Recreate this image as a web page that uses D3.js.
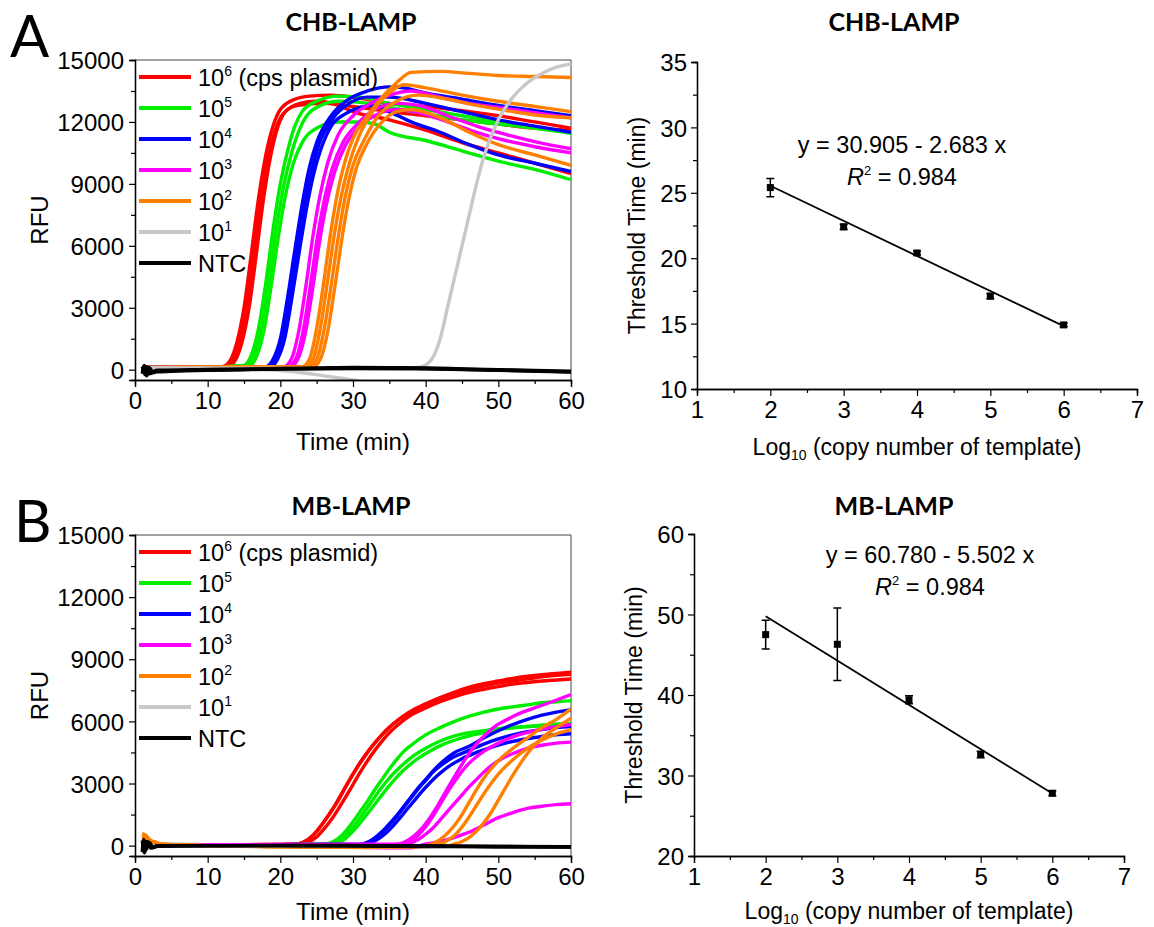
<!DOCTYPE html>
<html>
<head>
<meta charset="utf-8">
<script src="https://cdn.jsdelivr.net/npm/d3@7"></script>
<style>
  body { margin: 0; background: #fff; }
  svg text { font-family: "Liberation Sans", Arial, sans-serif; }
  .title { font-family: Lato, "Open Sans", sans-serif !important; font-weight: bold; }
</style>
</head>
<body>
<div class="canvas"></div>
<script>
// ---------- data ----------
const doseLabels = ['6', '5', '4', '3', '2', '1', 'NTC']
const doseColors = ['#ff0000', '#00ee00', '#0000ff', '#ff00ff', '#ff8000', '#c8c8c8', '#000000']

// CHB-LAMP amplification curves, [time (min), RFU]
const chb1e6 = [
  [[1,150],[5,120],[10,130],[12,150],[13,400],[14,1300],[15,3000],[16,5600],[17,8300],[18,10400],[19,11800],[20,12600],[22,13100],[24,13250],[27,13300],[30,13200],[35,12900],[40,12750],[45,12550],[50,12300],[55,12000],[60,11700]],
  [[1,100],[10,120],[12.7,150],[13.7,400],[14.7,1300],[15.7,3000],[16.7,5600],[17.7,8300],[18.7,10400],[19.7,11800],[20.7,12500],[22.7,12900],[25,13000],[28,12800],[30,12500],[35,12100],[40,11600],[45,11000],[50,10500],[55,10000],[60,9500]],
  [[1,120],[10,130],[12.4,150],[13.4,450],[14.4,1400],[15.4,3100],[16.4,5700],[17.4,8400],[18.4,10400],[19.4,11700],[20.4,12400],[22.4,12800],[26,12900],[30,12750],[35,12500],[40,12300],[45,12100],[50,11900],[55,11700],[60,11600]]
]
const chb1e5 = [
  [[1,100],[10,120],[15,200],[16,700],[17,2000],[18,4200],[19,6800],[20,9000],[21,10600],[22,11800],[23,12500],[25,13000],[28,13250],[31,13200],[35,12900],[40,12600],[45,12300],[50,12000],[55,11700],[60,11450]],
  [[1,90],[10,110],[15.8,200],[16.8,700],[17.8,2000],[18.8,4200],[19.8,6600],[20.8,8600],[21.8,10000],[23,11000],[25,11700],[28,12000],[31,12000],[33,11900],[35,11500],[40,11100],[45,10600],[50,10100],[55,9700],[60,9200]],
  [[1,110],[10,120],[15.4,200],[16.4,700],[17.4,2000],[18.4,4200],[19.4,6700],[20.4,8800],[21.4,10300],[22.6,11600],[24.5,12600],[28,13000],[31,12950],[35,12700],[40,12400],[45,12100],[50,11900],[55,11700],[60,11500]]
]
const chb1e4 = [
  [[1,100],[10,120],[18,150],[19,500],[20,1500],[21,3500],[22,5800],[23,8000],[24,9800],[25,11000],[27,12300],[29,13000],[32,13500],[35,13700],[37,13650],[40,13400],[45,13100],[50,12800],[55,12550],[60,12300]],
  [[1,90],[10,110],[18.6,150],[19.6,500],[20.6,1500],[21.6,3500],[22.6,5700],[23.6,7800],[24.6,9500],[25.6,10700],[27,11800],[29,12400],[31,12700],[33,12800],[35,12500],[38,12000],[42,11500],[46,10900],[50,10400],[55,10000],[60,9600]],
  [[1,110],[10,120],[18.3,150],[19.3,500],[20.3,1500],[21.3,3500],[22.3,5800],[23.3,7900],[24.3,9600],[25.3,10900],[27.3,12200],[29.5,12900],[32,13200],[35,13200],[40,12900],[45,12500],[50,12100],[55,11800],[60,11500]]
]
const chb1e3 = [
  [[1,100],[10,120],[20.5,150],[21.5,500],[22.5,1800],[23.5,4000],[24.5,6500],[25.5,8500],[26.5,10000],[28,11400],[30,12300],[33,13000],[36,13400],[38,13500],[42,13200],[46,12900],[50,12700],[55,12450],[60,12200]],
  [[1,90],[10,110],[21.1,150],[22.1,500],[23.1,1800],[24.1,4000],[25.1,6400],[26.1,8300],[27.1,9700],[28.6,11000],[30.6,11900],[33,12600],[36,12900],[39,12800],[43,12300],[47,11800],[51,11400],[55,11050],[60,10700]],
  [[1,110],[10,120],[21.4,150],[22.4,500],[23.4,1700],[24.4,3800],[25.4,6200],[26.4,8100],[27.4,9500],[29,10900],[31,11800],[33.5,12400],[36,12600],[39,12450],[43,12000],[47,11500],[51,11100],[55,10800],[60,10500]]
]
const chb1e2 = [
  [[1,100],[10,120],[23,150],[24,500],[25,2000],[26,4300],[27,6800],[28,8800],[29,10200],[30,11200],[32,12300],[34,13200],[36,13900],[38,14400],[42,14450],[46,14350],[50,14250],[55,14200],[60,14150]],
  [[1,90],[10,110],[23.5,150],[24.5,500],[25.5,2000],[26.5,4300],[27.5,6700],[28.5,8600],[29.5,10000],[30.7,11200],[32.5,12400],[35,13400],[37,13800],[40,13650],[45,13300],[50,13000],[55,12750],[60,12500]],
  [[1,110],[10,120],[24.5,150],[25.5,500],[26.5,1800],[27.5,4000],[28.5,6400],[29.5,8400],[30.5,9800],[32,11000],[34,12000],[36,12500],[38,12600],[42,12200],[46,11500],[50,10900],[55,10400],[60,9900]],
  [[1,100],[10,115],[24,150],[25,500],[26,1900],[27,4100],[28,6500],[29,8500],[30,9900],[31.5,11100],[33.5,12300],[36,13000],[39,13300],[43,13100],[47,12800],[52,12500],[56,12300],[60,12200]]
]
const chb1e1 = [
  [[1,100],[10,80],[20,60],[30,50],[38,60],[39.5,150],[41,600],[42,1500],[43,3000],[44,4500],[45,6000],[46,7500],[47,9000],[48,10300],[49,11300],[50,12100],[52,13200],[54,13900],[56,14350],[58,14650],[60,14800]],
  [[1,50],[10,30],[18,0],[22,-100],[26,-300],[30,-500],[35,-800],[60,-1500]]
]
const chbNtc = [
  [[1,-200],[1.3,200],[1.6,-300],[2,100],[2.5,-150],[3,-100],[5,-80],[10,-30],[15,0],[20,40],[25,60],[30,80],[35,90],[40,60],[45,20],[50,-20],[55,-60],[60,-100]],
  [[1,150],[1.4,-250],[1.8,120],[2.3,-120],[3,-60],[5,-40],[10,0],[15,20],[20,60],[25,80],[30,110],[35,100],[40,80],[45,40],[50,0],[55,-40],[60,-70]],
  [[1,-100],[1.5,150],[2,-200],[3,-30],[6,-20],[10,10],[20,30],[30,60],[40,40],[50,-30],[60,-120]]
]

// MB-LAMP amplification curves
const mb1e6 = [
  [[1,100],[2,50],[5,20],[10,30],[15,50],[20,60],[22,80],[23,150],[24,350],[25,700],[26,1150],[27,1650],[28,2200],[29,2850],[30,3450],[31,4000],[32,4500],[33,4950],[34,5350],[35,5700],[36,6000],[38,6450],[40,6800],[42,7100],[44,7350],[46,7550],[48,7700],[50,7850],[52,7950],[54,8050],[56,8150],[58,8220],[60,8280]],
  [[1,80],[5,20],[10,30],[20,50],[23,80],[24,200],[25,420],[26,800],[27,1250],[28,1780],[29,2350],[30,2950],[31,3550],[32,4100],[33,4600],[34,5050],[35,5450],[36,5780],[38,6300],[40,6650],[42,6950],[44,7200],[46,7400],[48,7550],[50,7680],[52,7800],[54,7880],[56,7950],[58,8000],[60,8050]],
  [[1,90],[5,30],[10,30],[20,60],[22.5,90],[23.5,200],[24.5,480],[25.5,900],[26.5,1400],[27.5,1950],[28.5,2550],[29.5,3150],[30.5,3750],[31.5,4280],[32.5,4750],[33.5,5170],[34.5,5550],[35.5,5870],[37.5,6400],[40,6850],[42,7150],[44,7420],[46,7650],[48,7820],[50,7950],[52,8080],[54,8180],[56,8260],[58,8320],[60,8370]]
]
const mb1e5 = [
  [[1,60],[10,40],[20,50],[26,70],[27,150],[28,350],[29,700],[30,1150],[31,1650],[32,2150],[33,2700],[34,3200],[35,3700],[36,4150],[37,4550],[38,4850],[40,5350],[42,5700],[44,6000],[46,6250],[48,6450],[50,6600],[52,6700],[54,6800],[56,6900],[58,6950],[60,7000]],
  [[1,50],[10,40],[20,50],[26.5,70],[27.5,150],[28.5,350],[29.5,700],[30.5,1100],[31.5,1600],[32.5,2100],[33.5,2600],[34.5,3050],[35.5,3450],[36.5,3800],[38,4250],[40,4700],[42,5050],[44,5300],[46,5450],[48,5550],[50,5650],[54,5750],[57,5800],[60,5800]],
  [[1,40],[10,30],[20,40],[27,70],[28,150],[29,350],[30,700],[31,1100],[32,1550],[33,2000],[34,2450],[35,2900],[36,3300],[37,3650],[38.5,4100],[40.5,4550],[42.5,4900],[44.5,5150],[46.5,5350],[48.5,5500],[51,5650],[54,5750],[57,5850],[60,5900]]
]
const mb1e4 = [
  [[1,50],[10,40],[20,50],[31,60],[32,150],[33,350],[34,650],[35,1000],[36,1400],[37,1850],[38,2300],[39,2750],[40,3150],[41,3550],[42,3850],[43,4100],[44,4300],[46,4600],[48,4900],[50,5150],[52,5350],[54,5500],[56,5600],[58,5700],[60,5750]],
  [[1,40],[10,30],[20,40],[31.5,60],[32.5,150],[33.5,330],[34.5,600],[35.5,950],[36.5,1350],[37.5,1780],[38.5,2200],[39.5,2620],[40.5,3000],[41.5,3350],[42.5,3650],[43.5,3900],[45,4200],[47,4500],[49,4750],[51,4950],[53,5100],[55,5220],[57,5320],[60,5400]],
  [[1,60],[10,40],[20,50],[31,60],[32,160],[33,370],[34,680],[35,1050],[36,1450],[37,1900],[38,2350],[39,2800],[40,3200],[41,3600],[42,3950],[43,4250],[44,4500],[46,4800],[48,5200],[50,5550],[52,5850],[54,6100],[56,6300],[58,6450],[60,6550]]
]
const mb1e3 = [
  [[1,40],[10,30],[20,60],[35.5,60],[36.5,100],[37.5,250],[38.5,500],[39.5,850],[40.5,1300],[41.5,1850],[42.5,2450],[43.5,3050],[44.5,3650],[45.5,4200],[46.5,4700],[47.5,5100],[48.5,5450],[49.5,5750],[51,6050],[53,6400],[55,6650],[57,6900],[60,7300]],
  [[1,50],[10,30],[20,50],[36.5,60],[37.5,100],[39,300],[40,550],[41,850],[42,1250],[43,1650],[44,2050],[45,2450],[46,2850],[47,3200],[48,3550],[49,3850],[50,4100],[52,4450],[54,4700],[56,4850],[58,4950],[60,5000]],
  [[1,30],[10,20],[20,40],[35,-100],[38,-100],[40,80],[42,200],[44,400],[46,650],[48,1000],[50,1350],[52,1600],[54,1800],[56,1900],[58,1980],[60,2020]],
  [[1,40],[10,30],[20,50],[36.5,60],[37.5,150],[38.5,350],[39.5,700],[40.5,1150],[41.5,1700],[42.5,2300],[43.5,2850],[44.5,3350],[45.5,3800],[46.5,4150],[48,4550],[50,4950],[52,5250],[55,5550],[60,5850]]
]
const mb1e2 = [
  [[1,600],[1.5,500],[2,300],[3,150],[4,60],[10,0],[20,-50],[30,-80],[38,-50],[40,0],[41,100],[42,300],[43,600],[44,1000],[45,1500],[46,2100],[47,2700],[48,3250],[49,3700],[50,4100],[52,4700],[54,5200],[56,5700],[58,6100],[60,6600]],
  [[1,500],[2,250],[3,100],[10,0],[20,-60],[32,-90],[40,0],[42,100],[43,250],[44,500],[45,900],[46,1400],[47,1950],[48,2500],[49,3000],[50,3450],[52,4150],[54,4700],[56,5100],[58,5400],[60,5600]],
  [[1,400],[2,200],[3,80],[10,0],[20,-40],[35,-80],[43,0],[44,80],[45,200],[46,400],[47,700],[48,1100],[49,1600],[50,2200],[51,2800],[52,3400],[53,3950],[54,4450],[56,5200],[58,5700],[60,6150]]
]
const mb1e1 = [
  [[1,-100],[3,0],[10,0],[20,-20],[30,-30],[40,-40],[50,-50],[60,-60]]
]
const mbNtc = [
  [[1,-300],[1.2,300],[1.5,-200],[2,150],[2.5,-100],[3,0],[10,0],[20,0],[30,-20],[40,-40],[50,-50],[60,-60]],
  [[1,250],[1.3,-350],[1.7,180],[2.2,-120],[3,-30],[10,-10],[20,10],[30,0],[40,-20],[50,-40],[60,-70]],
  [[1,-150],[1.6,200],[2.4,-60],[4,0],[15,0],[30,10],[45,-30],[60,-50]]
]

// standard curves: log10 copies, threshold time (min), error (min)
const logCopies = [2, 3, 4, 5, 6]
const chbTt = [25.4, 22.4, 20.4, 17.1, 14.9]
const chbErr = [0.7, 0.2, 0.15, 0.2, 0.15]
const chbFit = [30.905, -2.683]
const mbTt = [47.5, 46.3, 39.4, 32.6, 27.8]
const mbErr = [1.8, 4.5, 0.5, 0.4, 0.3]
const mbFit = [60.780, -5.502]

// ---------- chart ----------
const svg = d3.select('.canvas')
  .append('svg')
  .attr('width', 1154)
  .attr('height', 927)

const fmtTick = d3.format('d')
const FS = 24 // tick / axis title font size

// big panel letters
svg.append('text').attr('class', 'title').attr('x', 10).attr('y', 57)
  .attr('font-size', 58).style('font-weight', 'normal').text('A')
svg.append('text').attr('class', 'title').attr('x', 14).attr('y', 542)
  .attr('font-size', 58).style('font-weight', 'normal').text('B')

const styleAxes = (g) => {
  g.selectAll('.domain').attr('stroke', '#000').attr('stroke-width', 1.3)
  g.selectAll('.tick line').attr('stroke', '#000').attr('stroke-width', 1.2)
  g.selectAll('.tick text').attr('font-size', FS).attr('fill', '#000')
    .attr('font-family', '"Liberation Sans", Arial, sans-serif')
}

const drawCurves = (opt) => {
  const g = svg.append('g')
  const x = d3.scaleLinear().domain([0, 60]).range([opt.left, opt.right])
  const y = d3.scaleLinear().domain([-500, 15000]).range([opt.bottom, opt.top])

  const clipId = 'clip' + opt.id
  svg.append('clipPath').attr('id', clipId)
    .append('rect')
    .attr('x', opt.left).attr('y', opt.top)
    .attr('width', opt.right - opt.left).attr('height', opt.bottom - opt.top)

  // frame (top, right)
  g.append('path')
    .attr('d', `M${opt.left},${opt.top}H${opt.right}V${opt.bottom}`)
    .attr('fill', 'none').attr('stroke', '#444').attr('stroke-width', 1)

  const line = d3.line()
    .x(d => x(d[0]))
    .y(d => y(d[1]))
    .curve(d3.curveMonotoneX)

  const curves = g.append('g').attr('clip-path', `url(#${clipId})`)
  opt.groups.forEach((reps, i) => {
    reps.forEach(r => {
      curves.append('path')
        .attr('d', line(r))
        .attr('fill', 'none')
        .attr('stroke', doseColors[i])
        .attr('stroke-width', 3.4)
        .attr('stroke-linejoin', 'round')
    })
  })

  // axes
  g.append('g')
    .attr('transform', `translate(0, ${opt.bottom})`)
    .call(d3.axisBottom(x).tickValues(d3.range(0, 61, 10)).tickFormat(fmtTick).tickSize(7).tickPadding(5))
  g.append('g')
    .attr('transform', `translate(0, ${opt.bottom})`)
    .call(d3.axisBottom(x).tickValues(d3.range(5, 60, 10)).tickFormat('').tickSize(4))
  const yAxis = g.append('g')
    .attr('transform', `translate(${opt.left}, 0)`)
    .call(d3.axisLeft(y).tickValues(d3.range(0, 15001, 3000)).tickFormat(fmtTick).tickSize(6).tickPadding(5))
  g.append('g')
    .attr('transform', `translate(${opt.left}, 0)`)
    .call(d3.axisLeft(y).tickValues(d3.range(1500, 15000, 3000)).tickFormat('').tickSize(4))
  styleAxes(g)
  yAxis.selectAll('.tick text').attr('dy', '0.36em')

  // axis titles
  g.append('text')
    .attr('transform', `translate(${opt.left - 87}, ${(opt.top + opt.bottom) / 2}) rotate(-90)`)
    .attr('text-anchor', 'middle').attr('font-size', FS).text('RFU')
  g.append('text')
    .attr('x', (opt.left + opt.right) / 2).attr('y', Math.min(opt.bottom + 70, 920))
    .attr('text-anchor', 'middle').attr('font-size', FS).text('Time (min)')

  // title
  svg.append('text').attr('class', 'title')
    .attr('x', (opt.left + opt.right) / 2 - 2).attr('y', opt.titleY)
    .attr('text-anchor', 'middle').attr('font-size', 25).text(opt.title)

  // legend
  const legend = g.append('g').attr('transform', `translate(${opt.left + 4}, ${opt.legendY})`)
  doseLabels.forEach((lab, i) => {
    const row = legend.append('g').attr('transform', `translate(0, ${i * 31})`)
    row.append('line')
      .attr('x1', 0).attr('x2', 52)
      .attr('stroke', doseColors[i]).attr('stroke-width', 4)
    const t = row.append('text').attr('x', 59).attr('y', 9).attr('font-size', 23.5)
    if (lab === 'NTC') {
      t.text('NTC')
    } else {
      t.append('tspan').text('10')
      t.append('tspan').attr('dy', -10).attr('font-size', 14).text(lab)
      if (i === 0) t.append('tspan').attr('dy', 10).text(' (cps plasmid)')
    }
  })
}

const drawFit = (opt) => {
  const g = svg.append('g')
  const x = d3.scaleLinear().domain([1, 7]).range([opt.left, opt.right])
  const y = d3.scaleLinear().domain(opt.yDomain).range([opt.bottom, opt.top])

  g.append('g')
    .attr('transform', `translate(0, ${opt.bottom})`)
    .call(d3.axisBottom(x).ticks(7).tickFormat(fmtTick).tickSize(7).tickPadding(5))
  g.append('g')
    .attr('transform', `translate(0, ${opt.bottom})`)
    .call(d3.axisBottom(x).tickValues(d3.range(1.5, 7, 1)).tickFormat('').tickSize(4))
  const yAxis = g.append('g')
    .attr('transform', `translate(${opt.left}, 0)`)
    .call(d3.axisLeft(y).tickValues(d3.range(opt.yDomain[0], opt.yDomain[1] + 0.1, opt.yStep)).tickFormat(fmtTick).tickSize(6).tickPadding(4))
  g.append('g')
    .attr('transform', `translate(${opt.left}, 0)`)
    .call(d3.axisLeft(y).tickValues(d3.range(opt.yDomain[0] + opt.yStep / 2, opt.yDomain[1], opt.yStep)).tickFormat('').tickSize(4))
  styleAxes(g)
  yAxis.selectAll('.tick text').attr('dy', '0.36em')

  // fit line from the printed regression
  const x0 = d3.min(logCopies), x1 = d3.max(logCopies)
  g.append('line')
    .attr('x1', x(x0)).attr('y1', y(opt.fit[0] + opt.fit[1] * x0))
    .attr('x2', x(x1)).attr('y2', y(opt.fit[0] + opt.fit[1] * x1))
    .attr('stroke', '#000').attr('stroke-width', 1.8)

  // error bars + points
  const pts = g.selectAll('.pt').data(logCopies.map((c, i) => ({ c, t: opt.tt[i], e: opt.err[i] })))
    .enter().append('g')
  pts.append('line')
    .attr('x1', d => x(d.c)).attr('x2', d => x(d.c))
    .attr('y1', d => y(d.t - d.e)).attr('y2', d => y(d.t + d.e))
    .attr('stroke', '#000').attr('stroke-width', 1.5)
  pts.append('path')
    .attr('d', d => `M${x(d.c) - 4},${y(d.t - d.e)}H${x(d.c) + 4}M${x(d.c) - 4},${y(d.t + d.e)}H${x(d.c) + 4}`)
    .attr('stroke', '#000').attr('stroke-width', 1.5)
  pts.append('rect')
    .attr('x', d => x(d.c) - 3.5).attr('y', d => y(d.t) - 3.5)
    .attr('width', 7).attr('height', 7).attr('fill', '#000')

  // equation text
  const eq = g.append('text').attr('x', opt.eqX).attr('y', opt.eqY)
    .attr('text-anchor', 'middle').attr('font-size', 23.5)
  eq.text(`y = ${opt.fit[0].toFixed(3)} - ${(-opt.fit[1]).toFixed(3)} x`)
  const r2 = g.append('text').attr('x', opt.eqX).attr('y', opt.eqY + 32)
    .attr('text-anchor', 'middle').attr('font-size', 23.5)
  r2.append('tspan').attr('font-style', 'italic').text('R')
  r2.append('tspan').attr('dy', -10).attr('font-size', 13).text('2')
  r2.append('tspan').attr('dy', 10).text(' = 0.984')

  // axis titles
  g.append('text')
    .attr('transform', `translate(${opt.left - 52}, ${(opt.top + opt.bottom) / 2}) rotate(-90)`)
    .attr('text-anchor', 'middle').attr('font-size', 23).text('Threshold Time (min)')
  const xl = g.append('text')
    .attr('x', (opt.left + opt.right) / 2).attr('y', Math.min(opt.bottom + 66, 919))
    .attr('text-anchor', 'middle').attr('font-size', 23)
  xl.append('tspan').text('Log')
  xl.append('tspan').attr('dy', 5).attr('font-size', 14).text('10')
  xl.append('tspan').attr('dy', -5).text(' (copy number of template)')

  svg.append('text').attr('class', 'title')
    .attr('x', opt.titleX).attr('y', opt.titleY)
    .attr('text-anchor', 'middle').attr('font-size', 25).text(opt.title)
}

drawCurves({ id: 'a', left: 135, right: 571, top: 60, bottom: 380, titleY: 31, legendY: 77,
  title: 'CHB-LAMP', groups: [chb1e6, chb1e5, chb1e4, chb1e3, chb1e2, chb1e1, chbNtc] })
drawCurves({ id: 'b', left: 135, right: 571, top: 535, bottom: 856, titleY: 515, legendY: 552,
  title: 'MB-LAMP', groups: [mb1e6, mb1e5, mb1e4, mb1e3, mb1e2, mb1e1, mbNtc] })

drawFit({ left: 697, right: 1137, top: 62, bottom: 389, yDomain: [10, 35], yStep: 5,
  tt: chbTt, err: chbErr, fit: chbFit, eqX: 902, eqY: 153, titleX: 894, titleY: 31, title: 'CHB-LAMP' })
drawFit({ left: 694, right: 1124, top: 534, bottom: 856, yDomain: [20, 60], yStep: 10,
  tt: mbTt, err: mbErr, fit: mbFit, eqX: 930, eqY: 563, titleX: 894, titleY: 515, title: 'MB-LAMP' })
</script>
</body>
</html>
